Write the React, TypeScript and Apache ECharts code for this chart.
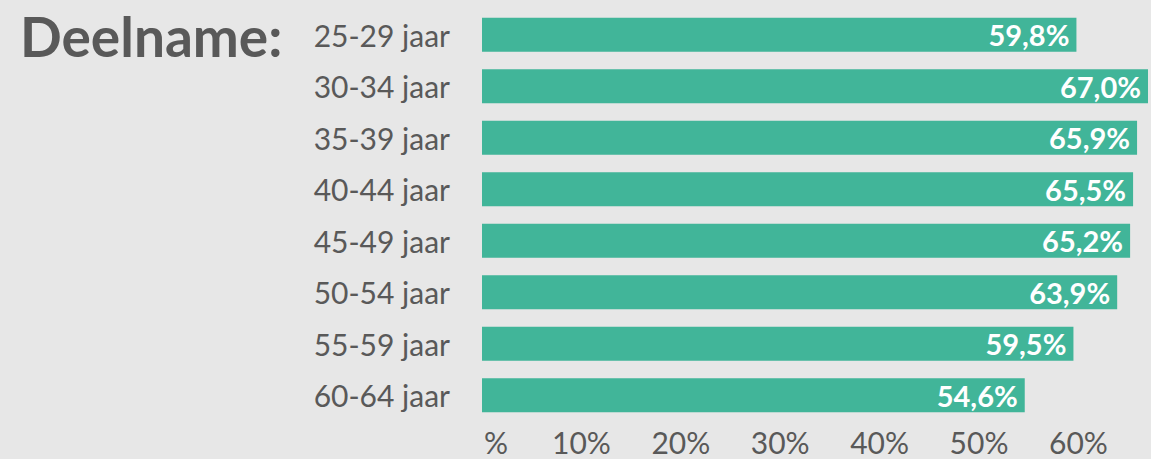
import React, { useEffect, useRef } from "react";
import * as echarts from "echarts";

const categories = [
  "25-29 jaar",
  "30-34 jaar",
  "35-39 jaar",
  "40-44 jaar",
  "45-49 jaar",
  "50-54 jaar",
  "55-59 jaar",
  "60-64 jaar",
];
const values = [59.8, 67.0, 65.9, 65.5, 65.2, 63.9, 59.5, 54.6];
const title = "Deelname:";

const FONT = "Lato, 'Open Sans', sans-serif";
const GREY = "#595959";

export default function App() {
  const ref = useRef<HTMLDivElement>(null);
  useEffect(() => {
    if (!ref.current) return;
    const chart = echarts.init(ref.current, undefined, { renderer: "svg" });
    chart.setOption({
      animation: false,
      backgroundColor: "#e7e7e7",
      textStyle: { fontFamily: FONT },
      title: {
        text: title,
        left: 15,
        top: 3,
        textStyle: { fontFamily: FONT, fontSize: 55, fontWeight: "bold", color: GREY },
      },
      grid: { left: 482, right: 0, top: 9, bottom: 38, containLabel: false },
      xAxis: {
        type: "value",
        min: 0,
        max: 67,
        interval: 10,
        splitLine: { show: false },
        axisLine: { show: false },
        axisTick: { show: false },
        axisLabel: {
          margin: 6,
          color: GREY,
          fontSize: 30,
          fontFamily: FONT,
          formatter: (v: number) => {
            if (Math.abs(v % 10) > 1e-6) return "";
            if (v === 0) return "{z|%}";
            return v + "%";
          },
          rich: {
            z: { fontSize: 30, fontFamily: FONT, color: GREY, padding: [0, 0, 0, 28] },
          },
        },
      },
      yAxis: {
        type: "category",
        data: categories,
        inverse: true,
        axisLine: { show: false },
        axisTick: { show: false },
        axisLabel: { margin: 32, color: GREY, fontSize: 30, fontFamily: FONT },
      },
      series: [
        {
          type: "bar",
          data: values,
          barWidth: 34,
          itemStyle: { color: "#41b599" },
          label: {
            show: true,
            position: "insideRight",
            offset: [-2, 0],
            color: "#ffffff",
            fontSize: 29,
            fontWeight: "bold",
            fontFamily: FONT,
            formatter: (p: any) => p.value.toFixed(1).replace(".", ",") + "%",
          },
        },
      ],
    });
    return () => chart.dispose();
  }, []);
  return (
    <div
      ref={ref}
      style={{ position: "fixed", left: 0, top: 0, width: 1151, height: 459 }}
    />
  );
}
